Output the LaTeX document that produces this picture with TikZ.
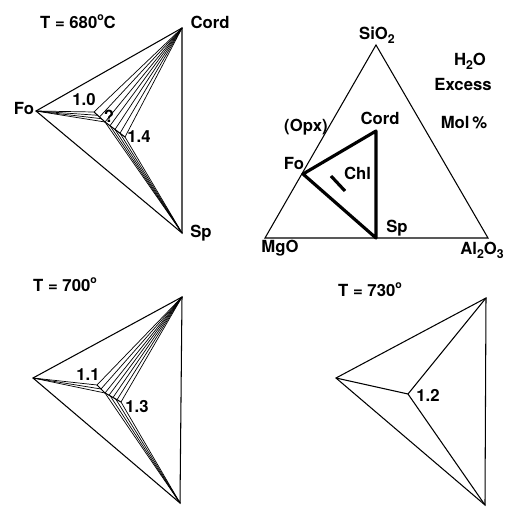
\documentclass[tikz,border=0pt]{standalone}
\usepackage{fontspec}
\setmainfont{TeX Gyre Heros}
\usetikzlibrary{calc}

\tikzset{
  lbl/.style={font=\bfseries\fontsize{9.5}{10}\selectfont, inner sep=1pt},
  edge/.style={line width=0.6pt},
  heavy/.style={line width=1.8pt, line join=round},
  tie/.style={line width=0.4pt},
}
\newcommand{\dn}[1]{\raisebox{-0.45ex}{\fontsize{7}{8}\selectfont #1}}
\newcommand{\degr}{\raisebox{0.9ex}{\fontsize{6}{6}\selectfont o}}

\begin{document}
\begin{tikzpicture}[x=0.02cm,y=-0.02cm]
    \useasboundingbox (0,0) rectangle (512,507);

    % T = 680 C (top left)
    \coordinate (cordA) at (182,28);
    \coordinate (foA) at (36,111);
    \coordinate (spA) at (182,233);
    \coordinate (aP1) at (94,112);
    \coordinate (aP2) at (105,122);
    \coordinate (aP3) at (125,137);
    \node[lbl] (tA) at (78,22) {T = 680\degr C};
    \node[lbl] (cordAl) at (210,22) {Cord};
    \node[lbl] (foAl) at (24,108) {Fo};
    \node[lbl] (spAl) at (201,233) {Sp};
    \node[lbl] (aL1) at (84,100) {1.0};
    \node[lbl] (aLq) at (109,116) {?};
    \node[lbl] (aL2) at (139,137) {1.4};
    \draw[edge] (foA) -- (cordA) -- (spA) -- cycle;
    \draw[edge] (aP1) -- (aP2) -- (aP3);
    \foreach \t in {0,0.33,0.67,1}
        \draw[tie] (foA) -- ($(aP1)!\t!(aP2)$);
    \draw[tie] (cordA) -- (aP1);
    \draw[tie] (cordA) -- ($(aP1)!0.5!(aP2)$);
    \foreach \t in {0,0.25,0.5,0.75,1}
        \draw[tie] (cordA) -- ($(aP2)!\t!(aP3)$);
    \foreach \t in {0,0.25,0.5,0.75,1}
        \draw[tie] (spA) -- ($(aP2)!\t!(aP3)$);

    % Composition triangle (top right)
    \coordinate (siO) at (376,45);
    \coordinate (mgO) at (265,238);
    \coordinate (alO) at (488,238);
    \coordinate (cordB) at (376,131);
    \coordinate (foB) at (303,174);
    \coordinate (spB) at (376,238);
    \coordinate (chlA) at (331,176);
    \coordinate (chlB) at (345,191);
    \node[lbl] (siOl) at (377,35) {SiO\dn{2}};
    \node[lbl] (mgOl) at (280,248) {MgO};
    \node[lbl] (alOl) at (482,250) {Al\dn{2}O\dn{3}};
    \node[lbl] (h2o) at (470,61) {H\dn{2}O};
    \node[lbl] (exc) at (463,84) {Excess};
    \node[lbl] (mol) at (464,123) {Mol\,\%};
    \node[lbl] (cordBl) at (380,118) {Cord};
    \node[lbl] (opx) at (306,127) {(Opx)};
    \node[lbl] (foBl) at (294,163) {Fo};
    \node[lbl, anchor=west] (chl) at (342,173) {Chl};
    \node[lbl] (spBl) at (397,228) {Sp};
    \draw[edge] (mgO) -- (siO) -- (alO) -- cycle;
    \draw[heavy] (foB) -- (cordB) -- (spB) -- cycle;
    \draw[heavy] (chlA) -- (chlB);

    % T = 700 (bottom left)
    \coordinate (cordC) at (182,297);
    \coordinate (foC) at (33,378);
    \coordinate (spC) at (180,503);
    \coordinate (cP1) at (97,385);
    \coordinate (cP2) at (105,393);
    \coordinate (cP3) at (121,402);
    \node[lbl] (tC) at (65,285) {T = 700\degr};
    \node[lbl] (cL1) at (88,375) {1.1};
    \node[lbl] (cL2) at (137,407) {1.3};
    \draw[edge] (foC) -- (cordC) -- (spC) -- cycle;
    \draw[edge] (cP1) -- (cP2) -- (cP3);
    \foreach \t in {0,0.5,1}
        \draw[tie] (foC) -- ($(cP1)!\t!(cP2)$);
    \draw[tie] (cordC) -- (cP1);
    \draw[tie] (cordC) -- ($(cP1)!0.5!(cP2)$);
    \foreach \t in {0,0.25,0.5,0.75,1}
        \draw[tie] (cordC) -- ($(cP2)!\t!(cP3)$);
    \foreach \t in {0,0.33,0.67,1}
        \draw[tie] (spC) -- ($(cP2)!\t!(cP3)$);

    % T = 730 (bottom right)
    \coordinate (cordD) at (486,298);
    \coordinate (foD) at (336,378);
    \coordinate (spD) at (485,505);
    \coordinate (dP) at (408,394);
    \node[lbl] (tD) at (370,290) {T = 730\degr};
    \node[lbl] (dL) at (428,395) {1.2};
    \draw[edge] (foD) -- (cordD) -- (spD) -- cycle;
    \draw[edge] (foD) -- (dP) -- (cordD);
    \draw[edge] (dP) -- (spD);
\end{tikzpicture}
\end{document}
